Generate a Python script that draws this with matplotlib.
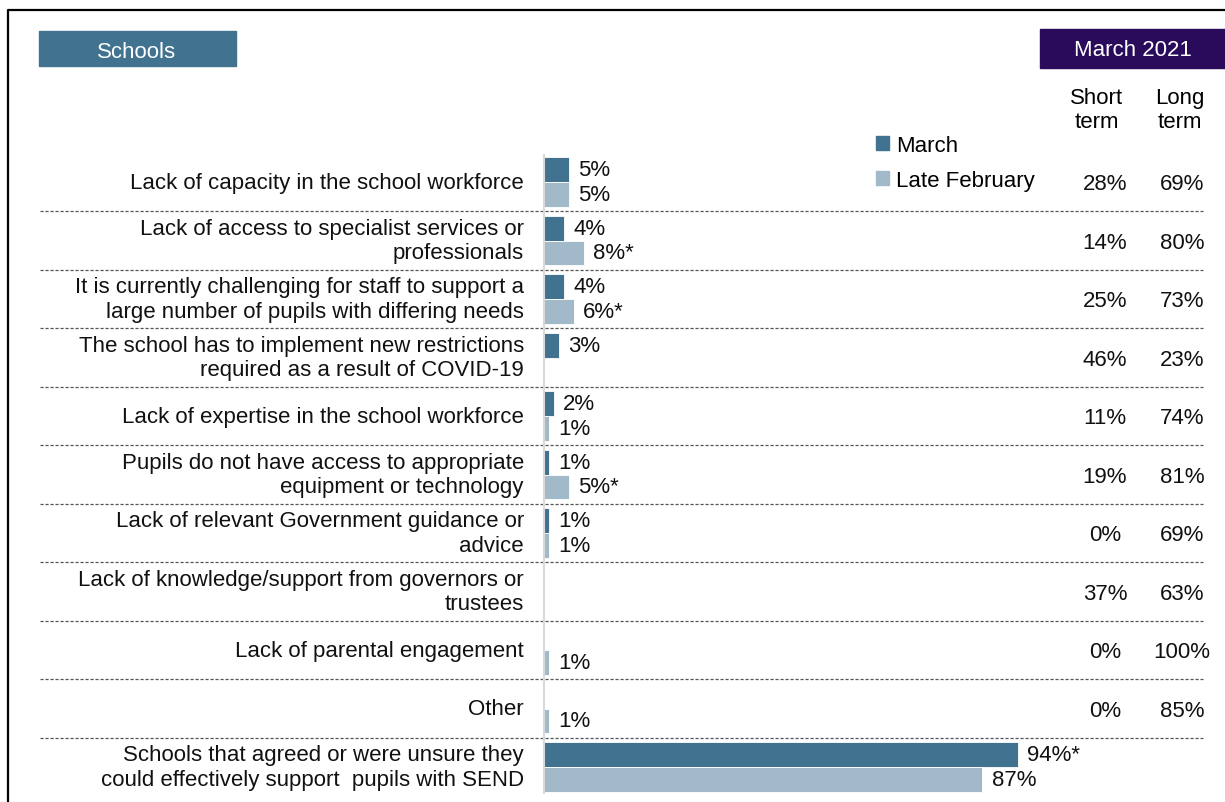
import matplotlib.pyplot as plt
import numpy as np
from matplotlib.patches import Rectangle
from matplotlib.lines import Line2D

plt.rcParams['font.family'] = ['Liberation Sans', 'DejaVu Sans']

# barriers to supporting pupils with SEND
labels = [
    "Lack of capacity in the school workforce",
    "Lack of access to specialist services or\nprofessionals",
    "It is currently challenging for staff to support a\nlarge number of pupils with differing needs",
    "The school has to implement new restrictions\nrequired as a result of COVID-19",
    "Lack of expertise in the school workforce",
    "Pupils do not have access to appropriate\nequipment or technology",
    "Lack of relevant Government guidance or\nadvice",
    "Lack of knowledge/support from governors or\ntrustees",
    "Lack of parental engagement",
    "Other",
    "Schools that agreed or were unsure they\ncould effectively support  pupils with SEND",
]
march = [5, 4, 4, 3, 2, 1, 1, np.nan, np.nan, np.nan, 94]
late_feb = [5, 8, 6, np.nan, 1, 5, 1, np.nan, 1, 1, 87]
march_sig = [False, False, False, False, False, False, False, False, False, False, True]
feb_sig = [False, True, True, False, False, True, False, False, False, False, False]
short_term = [28, 14, 25, 46, 11, 19, 0, 37, 0, 0, None]
long_term = [69, 80, 73, 23, 74, 81, 69, 63, 100, 85, None]

c_march = '#41728F'
c_feb = '#A2B9C9'
W, H = 1225, 803

fig = plt.figure(figsize=(W / 100, H / 100), dpi=100)
ax = fig.add_axes([0, 0, 1, 1])
# 0% sits at x=544px, 5.04px per percentage point; rows 58.5px apart
ax.set_xlim(-544 / 5.04, (W - 544) / 5.04)
ax.set_ylim((H - 183) / 58.5, -183 / 58.5)
ax.axis('off')

n = len(labels)
y = np.arange(n)
bh = 0.427
ax.barh(y - bh / 2, march, height=bh, color=c_march, edgecolor='white', linewidth=0.6)
ax.barh(y + bh / 2, late_feb, height=bh, color=c_feb, edgecolor='white', linewidth=0.6)

fs = 16
for i in range(n):
    ax.text(-4, i, labels[i], ha='right', va='center', fontsize=fs, color='#111111',
            linespacing=1.2)
    for vals, sig, off in ((march, march_sig, -bh / 2), (late_feb, feb_sig, bh / 2)):
        v = vals[i]
        if np.isnan(v):
            continue
        ax.text(v + 1.8, i + off, f"{v:.0f}%" + ("*" if sig[i] else ""),
                ha='left', va='center', fontsize=fs, color='#111111')
    if short_term[i] is not None:
        ax.text(111.3, i + 0.03, f"{short_term[i]}%", ha='center', va='center', fontsize=fs, color='#111111')
        ax.text(126.6, i + 0.03, f"{long_term[i]}%", ha='center', va='center', fontsize=fs, color='#111111')

# dashed row separators
ax.hlines(y[:-1] + 0.5, (40 - 544) / 5.04, (1203 - 544) / 5.04, colors='#555555',
          linestyles=(0, (2.5, 1.5)), linewidth=0.9)

# vertical baseline
ax.vlines(0, -0.48, 10.46, colors='#D9D9D9', linewidth=1.5)

# column headers
ax.text(109.7, -1.24, "Short\nterm", ha='center', va='center', fontsize=fs, linespacing=1.15)
ax.text(126.2, -1.24, "Long\nterm", ha='center', va='center', fontsize=fs, linespacing=1.15)

handles = [Rectangle((0, 0), 1, 1, color=c_march), Rectangle((0, 0), 1, 1, color=c_feb)]
ax.legend(handles, ["March", "Late February"], loc='upper left',
          bbox_to_anchor=(876 / W, 1 - 136 / H), frameon=False, fontsize=fs,
          handlelength=0.6, handleheight=0.6, handletextpad=0.3, labelspacing=0.62,
          borderaxespad=0, borderpad=0)


def fr(x0, y0, w, h):
    return (x0 / W, 1 - (y0 + h) / H), w / W, h / H


# header boxes
xy, w, h = fr(39, 32, 197, 35)
fig.add_artist(Rectangle(xy, w, h, transform=fig.transFigure, color=c_march))
fig.text(137 / W, 1 - 53 / H, "Schools", ha='center', va='center', fontsize=16, color='white')
xy, w, h = fr(1040, 30, 190, 39)
fig.add_artist(Rectangle(xy, w, h, transform=fig.transFigure, color='#2A0A5A'))
fig.text(1133 / W, 1 - 51 / H, "March 2021", ha='center', va='center', fontsize=16, color='white')

# outer frame (left and top edges)
fig.add_artist(Line2D([8 / W, 8 / W, 1], [0, 1 - 11 / H, 1 - 11 / H],
                      transform=fig.transFigure, color='black', linewidth=1.6))

fig.savefig('out.png', dpi=100)
